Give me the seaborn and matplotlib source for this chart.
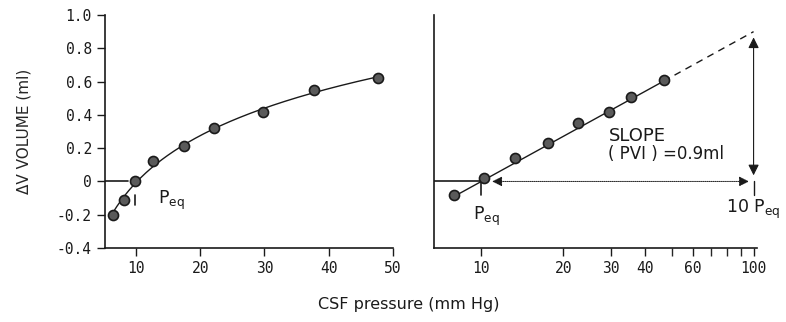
import numpy as np
import pandas as pd
import matplotlib
matplotlib.use("Agg")
import matplotlib.pyplot as plt
import seaborn as sns

sns.set_theme(style="ticks")
plt.rcParams['font.family'] = ['DejaVu Sans']

# Left panel: linear pressure axis
left_pressure = [6.4, 8.1, 9.8, 12.7, 17.5, 22.2, 29.8, 37.7, 47.7]
left_volume = [-0.20, -0.11, 0.0, 0.12, 0.21, 0.32, 0.42, 0.55, 0.62]
# Right panel: logarithmic pressure axis
right_pressure = [7.9, 10.2, 13.3, 17.5, 22.7, 29.5, 35.6, 46.7]
right_volume = [-0.08, 0.02, 0.14, 0.23, 0.35, 0.42, 0.51, 0.61]

p_eq = 10.0
pvi = 0.9
y_ticks = [1.0, 0.8, 0.6, 0.4, 0.2, 0.0, -0.2, -0.4]
y_ticklabels = ["1.0", "0.8", "0.6", "0.4", "0.2", "0", "-0.2", "-0.4"]
left_xticks = [10, 20, 30, 40, 50]
right_major = [10, 20, 30, 40, 60, 100]
right_minor = [50, 70, 80, 90]

mono = ['DejaVu Sans Mono']
ink = '#1a1a1a'
dot = '#5a5a5a'

fig = plt.figure(figsize=(7.86, 3.22), dpi=100)
axL = fig.add_axes([0.1336, 0.2298, 0.3664, 0.7236])
axR = fig.add_axes([0.5522, 0.2298, 0.4110, 0.7236])

# ---------- Left panel ----------
dfL = pd.DataFrame({"p": left_pressure, "v": left_volume})
coefL = np.polyfit(np.log(dfL.p), dfL.v, 1)
gridL = np.linspace(min(left_pressure), max(left_pressure), 200)
sns.lineplot(x=gridL, y=np.polyval(coefL, np.log(gridL)), ax=axL, color=ink, lw=1.0)
sns.scatterplot(data=dfL, x="p", y="v", ax=axL, s=52, color=dot,
                edgecolor=ink, linewidth=1.2, zorder=3)
axL.plot([5.2, 8.8], [0, 0], color=ink, lw=1.2)
axL.plot([9.8, 9.8], [-0.08, -0.14], color=ink, lw=1.2)
axL.text(13.5, -0.115, r"P$_{\rm eq}$", fontsize=12.5, va='center', color=ink)

axL.set_xlim(5.2, 50)
axL.set_ylim(-0.4, 1.0)
axL.set_xticks(left_xticks)
axL.set_xticklabels([str(t) for t in left_xticks], family=mono, fontsize=10.5)
axL.set_yticks(y_ticks)
axL.set_yticklabels(y_ticklabels, family=mono, fontsize=10.5)
axL.set_xlabel("")
axL.set_ylabel("ΔV VOLUME (ml)", fontsize=11, labelpad=18)
sns.despine(ax=axL)

# ---------- Right panel ----------
dfR = pd.DataFrame({"p": right_pressure, "v": right_volume})
axR.set_xscale('log')
gridR = np.geomspace(min(right_pressure), max(right_pressure), 100)
extR = np.geomspace(max(right_pressure), 10 * p_eq, 50)
lineR = lambda x: pvi * np.log10(np.asarray(x) / p_eq)
sns.lineplot(x=gridR, y=lineR(gridR), ax=axR, color=ink, lw=1.0)
sns.lineplot(x=extR, y=lineR(extR), ax=axR, color=ink, lw=1.0, linestyle=(0, (5, 4)))
sns.scatterplot(data=dfR, x="p", y="v", ax=axR, s=52, color=dot,
                edgecolor=ink, linewidth=1.2, zorder=3)

axR.plot([6.7, p_eq], [0, 0], color=ink, lw=1.2)
axR.plot([p_eq, p_eq], [0, -0.08], color=ink, lw=1.2)
axR.annotate("", xy=(10 * p_eq * 0.985, 0), xytext=(p_eq * 1.07, 0),
             arrowprops=dict(arrowstyle='<|-|>', color=ink, lw=0.7,
                             linestyle=(0, (1, 1)), mutation_scale=15))
axR.annotate("", xy=(10 * p_eq, pvi * 0.98), xytext=(10 * p_eq, 0.02),
             arrowprops=dict(arrowstyle='<|-|>', color=ink, lw=0.8,
                             mutation_scale=16))
axR.plot([10 * p_eq, 10 * p_eq], [0, -0.08], color=ink, lw=1.0)
axR.text(p_eq * 0.93, -0.21, r"P$_{\rm eq}$", fontsize=12.5, va='center', color=ink)
axR.text(10 * p_eq * 1.0, -0.17, r"10 P$_{\rm eq}$", fontsize=12.5, va='center',
         ha='center', color=ink)
axR.text(29.3, 0.275, "SLOPE", fontsize=13, va='center', color=ink)
axR.text(29.3, 0.165, "( PVI ) =0.9ml", fontsize=12, va='center', color=ink)

axR.set_xlim(6.7, 103)
axR.set_ylim(-0.4, 1.0)
axR.set_xticks(right_major)
axR.set_xticklabels([str(t) for t in right_major], family=mono, fontsize=10.5)
axR.set_xticks(right_minor, minor=True)
axR.set_xticklabels([], minor=True)
axR.tick_params(axis='x', which='minor', length=6, width=1.0)
axR.tick_params(axis='y', left=False, labelleft=False)
axR.set_xlabel("")
axR.set_ylabel("")
sns.despine(ax=axR)

for ax in (axL, axR):
    for s in ax.spines.values():
        s.set_color(ink)
        s.set_linewidth(1.2)
    ax.tick_params(axis='both', which='major', length=6, width=1.0, colors=ink)

fig.text(0.52, 0.055, "CSF pressure (mm Hg)", ha='center', va='center',
         fontsize=11.5, color=ink)

fig.savefig("out.png", dpi=100)
